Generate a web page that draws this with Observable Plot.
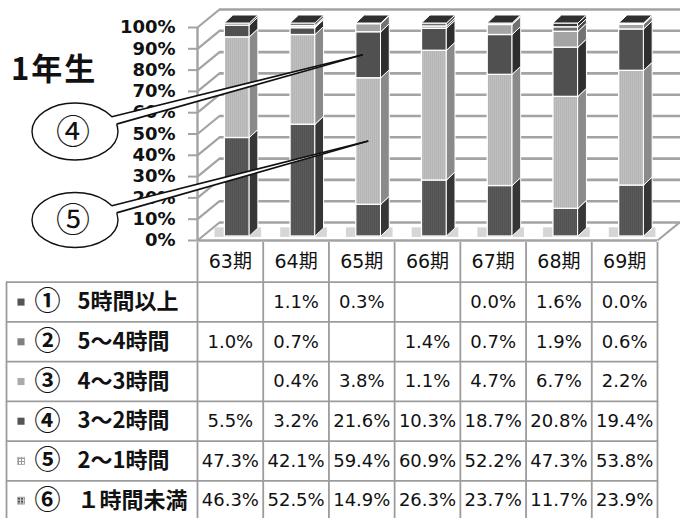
<!DOCTYPE html>
<html><head><meta charset="utf-8">
<script src="https://cdn.jsdelivr.net/npm/d3@7"></script>
<script src="https://cdn.jsdelivr.net/npm/@observablehq/plot@0.6"></script>
<style>
body{margin:0;background:#fff;}
#wrap{position:relative;width:680px;height:518px;overflow:hidden;background:#fff;}
#wrap svg{position:absolute;left:0;overflow:visible;background:none;}
g[aria-label="rowlabel"] text{letter-spacing:2.5px;}
g[aria-label="header"] text{letter-spacing:1px;}
g[aria-label="shadow"]{filter:blur(2.5px);}
</style></head><body>
<svg width="0" height="0" style="position:absolute">
  <defs>
    <pattern id="pat5" width="2" height="2" patternUnits="userSpaceOnUse">
      <rect width="2" height="2" fill="#c0c0c0"/>
      <rect width="1" height="2" fill="#b4b4b4"/>
    </pattern>
    <pattern id="pat6" width="2" height="2" patternUnits="userSpaceOnUse">
      <rect width="2" height="2" fill="#5a5a5a"/>
      <rect width="1" height="2" fill="#525252"/>
    </pattern>
    <pattern id="leg5" width="3" height="3" patternUnits="userSpaceOnUse">
      <rect width="3" height="3" fill="#fff"/>
      <rect width="1" height="3" fill="#999"/>
      <rect width="3" height="1" fill="#999"/>
    </pattern>
    <pattern id="leg6" width="3" height="3" patternUnits="userSpaceOnUse">
      <rect width="3" height="3" fill="#ccc"/>
      <rect width="2" height="2" fill="#555"/>
    </pattern>
  </defs>
</svg>
<div id="wrap"></div>
<script>
// ---- data ----
const periods = ["63期","64期","65期","66期","67期","68期","69期"];
const seriesMarks = ["①","②","③","④","⑤","⑥"];
const seriesLabels = ["5時間以上","5～4時間","4～3時間","3～2時間","2～1時間","１時間未満"];
const v1 = [null, 1.1, 0.3, null, 0.0, 1.6, 0.0];
const v2 = [1.0, 0.7, null, 1.4, 0.7, 1.9, 0.6];
const v3 = [null, 0.4, 3.8, 1.1, 4.7, 6.7, 2.2];
const v4 = [5.5, 3.2, 21.6, 10.3, 18.7, 20.8, 19.4];
const v5 = [47.3, 42.1, 59.4, 60.9, 52.2, 47.3, 53.8];
const v6 = [46.3, 52.5, 14.9, 26.3, 23.7, 11.7, 23.9];
const yTickValues = [0,10,20,30,40,50,60,70,80,90,100];
const yTickLabels = ["0%","10%","20%","30%","40%","50%","60%","70%","80%","90%","100%"];
const title = "1年生";
const calloutMarks = ["④","⑤"];

// ---- styles ----
const frontFill = ["#3a3a3a","#6e6e6e","#a4a4a4","#505050","url(#pat5)","url(#pat6)"];
const sideFill  = ["#262626","#4a4a4a","#727272","#2e2e2e","#8a8a8a","#363636"];
const legendFill = ["#555","#808080","#aaa","#555","url(#leg5)","url(#leg6)"];
const gridColor = "#a3a3a3";
const lineColor = "#9c9c9c";

// ---- geometry ----
const X_RANGE = [197, 657];
const PX_X = (X_RANGE[1]-X_RANGE[0])/7;
const Y_RANGE = [240, 27];
const PX_Y = (Y_RANGE[0]-Y_RANGE[1])/100;
const WALL_DX = 22/PX_X, WALL_DY = 18/PX_Y;
const BX1 = 0.5 + 7/PX_X - 12.5/PX_X, BX2 = 0.5 + 7/PX_X + 12.5/PX_X;
const SD = 8.5/PX_X, RISE = 8/PX_Y;
const BAR_DY = -4;
const LABEL_X = (6 - X_RANGE[0])/PX_X;
const X_END = (680 - X_RANGE[0])/PX_X;

// 100% stacked: each period normalised by its total
const seriesValues = [v1,v2,v3,v4,v5,v6];
const segs = [];
periods.forEach((p,i)=>{
  const total = d3.sum(seriesValues, arr=>arr[i] ?? 0);
  let acc = 0;
  for (let s = 5; s >= 0; s--) {
    const v = seriesValues[s][i];
    if (v == null) continue;
    const pct = v / total * 100;
    segs.push({i, s, y1: acc, y2: acc + pct});
    acc += pct;
  }
});
const sidePts = segs.flatMap((d,k)=>[
  {key:k, s:d.s, x:d.i+BX2, y1:d.y1, y2:d.y2},
  {key:k, s:d.s, x:d.i+BX2+SD, y1:d.y1+RISE, y2:d.y2+RISE}
]);
const topPts = periods.flatMap((p,i)=>{
  const t = d3.max(segs.filter(d=>d.i===i), d=>d.y2);
  return [
    {key:i, x:i+BX1, y1:t, y2:t},
    {key:i, x:i+BX1+SD, y1:t, y2:t+RISE},
    {key:i, x:i+BX2, y1:t, y2:t+RISE},
    {key:i, x:i+BX2+SD, y1:t+RISE, y2:t+RISE}
  ];
});
const ticks = yTickValues.map((v,k)=>({v, label:yTickLabels[k]}));

const barMarks = [];
for (let s = 5; s >= 0; s--) {
  barMarks.push(Plot.rect(segs.filter(d=>d.s===s), {
    x1: d=>d.i+BX1, x2: d=>d.i+BX2, y1:"y1", y2:"y2", dy: BAR_DY,
    fill: frontFill[s], stroke:"white", strokeWidth:1.3
  }));
  barMarks.push(Plot.areaY(sidePts.filter(d=>d.s===s), {
    x:"x", y1:"y1", y2:"y2", z:"key", dy: BAR_DY,
    fill: sideFill[s], stroke:"white", strokeWidth:1
  }));
}

const chart = Plot.plot({
  width: 680, height: 242, margin: 0,
  x: {domain:[0,7], range:X_RANGE, axis:null},
  y: {domain:[0,100], range:Y_RANGE, axis:null},
  style: {background:"none", overflow:"visible"},
  marks: [
    Plot.ruleY(ticks, {y: d=>d.v+WALL_DY, x1: ()=>WALL_DX, x2: ()=>X_END, stroke: gridColor, strokeWidth: 2.6}),
    Plot.link(ticks, {x1: ()=>0, y1: d=>d.v, x2: ()=>WALL_DX, y2: d=>d.v+WALL_DY, stroke: gridColor, strokeWidth: 2.2}),
    Plot.link([0], {x1: ()=>7, y1: ()=>0, x2: ()=>7+WALL_DX, y2: ()=>WALL_DY, stroke: gridColor, strokeWidth: 2.2}),
    Plot.ruleY([0], {x1: ()=>0, x2: ()=>7, stroke: gridColor, strokeWidth: 2.4}),
    Plot.ruleX([0], {y1: ()=>0, y2: ()=>100, stroke: gridColor, strokeWidth: 2.4}),
    Plot.ruleY(ticks, {y: "v", x1: ()=>-9/PX_X, x2: ()=>0, stroke: gridColor, strokeWidth: 2}),
    Plot.rect(periods, {x1: (d,i)=>i+BX1-0.15, x2: (d,i)=>i+BX2+SD+0.05, y1: ()=>0.5, y2: ()=>5, dy: -2, fill:"#d6d6d6", ariaLabel:"shadow"}),
    ...barMarks,
    Plot.areaY(topPts, {x:"x", y1:"y1", y2:"y2", z:"key", dy: BAR_DY, fill:"#2f2f2f", stroke:"white", strokeWidth:1}),
    Plot.text(ticks, {x: ()=>0, y: "v", text: "label", dx: -22, textAnchor: "end",
      fontFamily: "DejaVu Sans", fontWeight: "bold", fontSize: 18, fill: "#111"})
  ]
});
chart.style.top = "0px";

// ---- table ----
const cells = [];
seriesValues.forEach((arr,s)=>arr.forEach((v,i)=>cells.push({i,s,v})));
const rows = seriesMarks.map((m,s)=>({s, mark:m, label:seriesLabels[s]}));
const legendMarks = rows.map(r=>Plot.dot([r], {x: ()=>LABEL_X, y: d=>d.s+1.5, dx: 14.5,
  symbol:"square", r:4, fill: legendFill[r.s], stroke: r.s>=4 ? "#888" : "none", strokeWidth: 0.5}));

const table = Plot.plot({
  width: 680, height: 276, margin: 0,
  x: {domain:[0,7], range:X_RANGE, axis:null},
  y: {domain:[0,7], range:[0,278], axis:null},
  style: {background:"none", overflow:"visible"},
  marks: [
    Plot.ruleY([1,2,3,4,5,6,7], {x1: ()=>LABEL_X, x2: ()=>7, stroke: lineColor, strokeWidth: 1.8}),
    Plot.ruleX([0,1,2,3,4,5,6,7], {y1: ()=>0, y2: ()=>7, stroke: lineColor, strokeWidth: 1.8}),
    Plot.ruleX([LABEL_X], {y1: ()=>1, y2: ()=>7, stroke: lineColor, strokeWidth: 1.8}),
    Plot.text(periods, {x: (d,i)=>i+0.5, y: ()=>0.5, text: d=>d, ariaLabel:"header",
      fontFamily: "DejaVu Sans, Noto Sans CJK JP", fontSize: 19, fill:"#111"}),
    Plot.text(cells, {x: d=>d.i+0.5, y: d=>d.s+1.5, text: d=>d.v==null ? "" : d.v.toFixed(1)+"%",
      fontFamily: "DejaVu Sans", fontSize: 18, fill:"#111"}),
    ...legendMarks,
    Plot.text(rows, {x: ()=>LABEL_X, y: d=>d.s+1.5, dx: 41, text: "mark",
      fontFamily: "Noto Sans CJK JP", fontWeight: "bold", fontSize: 26, fill:"#111"}),
    Plot.text(rows, {x: ()=>LABEL_X, y: d=>d.s+1.5, dx: 71, text: "label", textAnchor:"start", ariaLabel:"rowlabel",
      fontFamily: "Noto Sans CJK JP", fontWeight: "bold", fontSize: 22, fill:"#111"})
  ]
});
table.style.top = "242px";

const wrap = document.getElementById("wrap");
wrap.appendChild(chart);
wrap.appendChild(table);

// ---- callouts & title overlay ----
const xs = d3.scaleLinear([0,7], X_RANGE);
const ys = d3.scaleLinear([0,100], Y_RANGE);
const seg4 = segs.find(d=>d.i===2 && d.s===3);
const seg5 = segs.find(d=>d.i===2 && d.s===4);
const callouts = [
  {text: calloutMarks[0], cx:75, cy:131.5, rx:43, ry:28.5, a1:31, a2:15,
   tx: xs(2+BX1)+7, ty: ys((seg4.y1+seg4.y2)/2)+BAR_DY},
  {text: calloutMarks[1], cx:75, cy:220, rx:43, ry:27.5, a1:31, a2:15,
   tx: xs(2+(BX1+BX2)/2), ty: ys((seg5.y1+seg5.y2)/2)+BAR_DY}
];
const ov = d3.create("svg").attr("width",680).attr("height",260).style("top","0px").style("pointer-events","none");
ov.append("text").attr("x",11).attr("y",80).text(title)
  .attr("font-family","Noto Sans CJK JP").attr("font-weight","bold").attr("font-size",31)
  .attr("letter-spacing","2px").attr("fill","#111");
callouts.forEach(c=>{
  const pt = a => [c.cx + c.rx*Math.cos(a*Math.PI/180), c.cy - c.ry*Math.sin(a*Math.PI/180)];
  const b1 = pt(c.a1), b2 = pt(c.a2);
  ov.append("ellipse").attr("cx",c.cx).attr("cy",c.cy).attr("rx",c.rx).attr("ry",c.ry)
    .attr("fill","white").attr("stroke","#111").attr("stroke-width",1.4);
  ov.append("polygon").attr("points",[[c.cx+c.rx*0.7,c.cy],[b1[0]-2,b1[1]+1],[c.tx,c.ty],[b2[0]-2,b2[1]+1]].map(p=>p.join(",")).join(" "))
    .attr("fill","white");
  ov.append("line").attr("x1",b1[0]).attr("y1",b1[1]).attr("x2",c.tx).attr("y2",c.ty).attr("stroke","#111").attr("stroke-width",1.6);
  ov.append("line").attr("x1",b2[0]).attr("y1",b2[1]).attr("x2",c.tx).attr("y2",c.ty).attr("stroke","#111").attr("stroke-width",1.6);
  ov.append("text").attr("x",c.cx-2).attr("y",c.cy+3).attr("text-anchor","middle").attr("dominant-baseline","middle")
    .attr("font-family","Noto Sans CJK JP").attr("font-size",34).attr("fill","#111").text(c.text);
});
wrap.appendChild(ov.node());
</script>
</body></html>
